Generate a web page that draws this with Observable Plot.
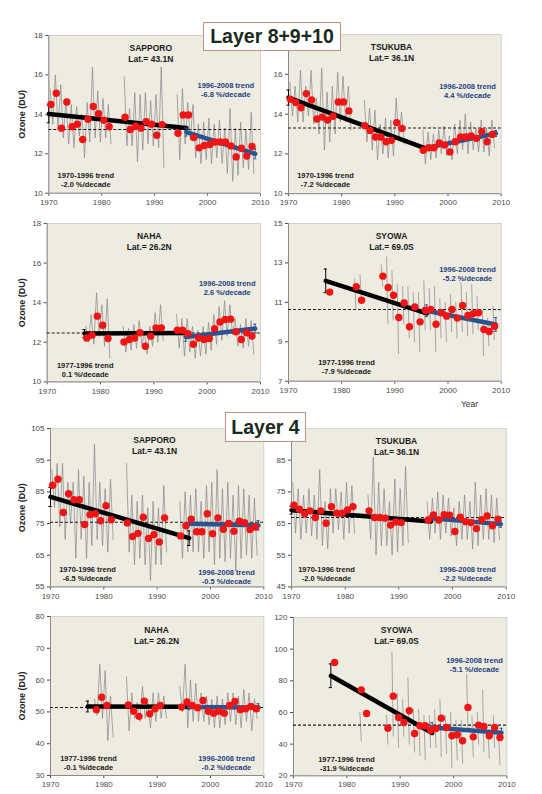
<!DOCTYPE html>
<html>
<head>
<meta charset="utf-8">
<script src="https://cdn.jsdelivr.net/npm/d3@7"></script>
<script src="https://cdn.jsdelivr.net/npm/@observablehq/plot@0.6"></script>
<style>
  html, body { margin: 0; padding: 0; background: #fff; }
  #page { position: relative; width: 542px; height: 794px; overflow: hidden; font-family: "Liberation Sans", Arial, sans-serif; }
  #page svg { position: absolute; }
  .layer { position: absolute; box-sizing: border-box; background: #fff; border: 1.5px solid #c98f86;
           color: #1b2a1b; font: bold 19.5px "Liberation Sans", Arial, sans-serif;
           display: flex; align-items: center; justify-content: center; z-index: 5; }
</style>
</head>
<body>
<div id="page">
  <div class="layer" style="left:203px;top:22px;width:138px;height:29px">Layer 8+9+10</div>
  <div class="layer" style="left:225px;top:412px;width:81px;height:30px">Layer 4</div>
</div>
<script>
// ---------- Umkehr layer ozone (DU) ----------
const decadeTicks = [1970, 1980, 1990, 2000, 2010];

// Annual means [year, DU]
const sapporoL8Annual = [[1970,14.5],[1971,15.07],[1972,13.3],[1973,14.63],[1974,13.37],[1975,13.5],[1976,12.72],[1977,13.75],[1978,14.4],[1979,14.03],[1980,13.7],[1981,13.37],[1984,13.85],[1985,13.23],[1986,13.4],[1987,13.3],[1988,13.63],[1989,13.5],[1990,12.94],[1991,13.48],[1994,13.04],[1995,13.97],[1996,13.97],[1997,12.82],[1998,12.3],[1999,12.42],[2000,12.47],[2001,12.6],[2002,12.6],[2003,12.6],[2004,12.4],[2005,11.84],[2006,12.28],[2007,11.89],[2008,12.37]];
const tsukubaL8Annual = [[1970,14.74],[1971,14.58],[1972,14.32],[1973,15.03],[1974,14.71],[1975,13.75],[1976,13.85],[1977,13.7],[1978,13.89],[1979,14.61],[1980,14.61],[1981,14.16],[1984,13.42],[1985,13.18],[1986,12.85],[1987,12.85],[1988,12.61],[1989,12.68],[1990,13.57],[1991,13.28],[1995,12.18],[1996,12.31],[1997,12.31],[1998,12.55],[1999,12.45],[2000,12.1],[2001,12.61],[2002,12.85],[2003,12.85],[2004,12.9],[2005,12.78],[2006,13.12],[2007,12.61],[2008,12.98]];
const nahaL8Annual = [[1977,12.22],[1978,12.36],[1979,13.32],[1980,12.86],[1981,12.19],[1984,12.02],[1985,12.14],[1986,12.22],[1987,12.48],[1988,11.8],[1989,12.31],[1990,12.73],[1991,12.73],[1994,12.61],[1995,12.61],[1996,12.44],[1997,11.9],[1998,12.22],[1999,12.14],[2000,12.19],[2001,12.69],[2002,13.03],[2003,13.15],[2004,13.17],[2005,12.53],[2006,12.14],[2007,12.48],[2008,12.32]];
const syowaL8Annual = [[1977,11.52],[1982,11.79],[1983,11.11],[1987,12.33],[1988,11.75],[1989,11.36],[1990,10.23],[1991,10.97],[1992,9.76],[1993,10.77],[1994,10.01],[1995,10.6],[1996,10.64],[1997,9.89],[1998,10.47],[1999,10.3],[2000,10.64],[2001,10.2],[2002,10.84],[2003,10.33],[2004,10.43],[2005,10.47],[2006,9.62],[2007,9.52],[2008,9.79]];
const sapporoL4Annual = [[1970,87.1],[1971,89.0],[1972,78.5],[1973,84.4],[1974,82.5],[1975,82.5],[1976,74.7],[1977,77.8],[1978,78.1],[1979,75.9],[1980,80.6],[1981,76.2],[1984,75.2],[1985,70.9],[1986,71.9],[1987,77.0],[1988,70.3],[1989,71.5],[1990,69.2],[1991,76.8],[1994,71.1],[1995,74.3],[1996,76.4],[1997,72.4],[1998,72.4],[1999,78.1],[2000,71.8],[2001,76.8],[2002,73.2],[2003,75.0],[2004,72.6],[2005,75.7],[2006,75.3],[2007,73.1],[2008,73.9]];
const tsukubaL4Annual = [[1970,70.8],[1971,69.5],[1972,68.1],[1973,69.0],[1974,66.9],[1975,69.0],[1976,65.1],[1977,70.3],[1978,68.3],[1979,68.3],[1980,69.3],[1981,70.3],[1984,69.0],[1985,66.9],[1986,66.9],[1987,66.7],[1988,64.5],[1989,65.5],[1990,65.3],[1995,66.1],[1996,67.7],[1997,66.1],[1998,67.8],[1999,67.6],[2000,62.5],[2001,67.0],[2002,65.6],[2003,65.3],[2004,63.4],[2005,66.2],[2006,67.4],[2007,64.3],[2008,66.4]];
const nahaL4Annual = [[1978,50.7],[1979,54.6],[1980,52.0],[1984,52.2],[1985,50.2],[1986,48.6],[1987,53.4],[1988,49.4],[1989,51.0],[1990,52.0],[1994,51.5],[1995,53.1],[1996,52.0],[1997,51.3],[1998,53.6],[1999,50.2],[2000,49.6],[2001,50.2],[2002,49.6],[2003,52.0],[2004,53.3],[2005,50.7],[2006,51.0],[2007,51.7],[2008,51.0]];
const syowaL4Annual = [[1977,91.6],[1982,74.3],[1983,59.4],[1987,50.1],[1988,70.3],[1989,56.8],[1990,53.7],[1991,61.1],[1992,46.7],[1993,51.6],[1994,51.6],[1995,48.8],[1996,49.9],[1997,56.4],[1998,50.5],[1999,45.3],[2000,45.9],[2001,42.1],[2002,63.2],[2003,44.6],[2004,52.0],[2005,51.2],[2006,45.3],[2007,50.5],[2008,44.2]];

// Monthly spread per year [year, highest month, lowest month]
const sapporoL8Monthly = [[1970,15.3,13.5],[1971,16.0,13.2],[1972,15.5,12.8],[1973,14.8,12.5],[1974,14.5,12.3],[1975,14.4,12.9],[1976,14.0,11.8],[1977,14.6,12.6],[1978,16.4,12.8],[1979,15.2,12.6],[1980,14.8,12.8],[1981,14.5,12.5],[1984,15.9,12.4],[1985,14.3,12.4],[1986,15.1,11.6],[1987,15.0,12.2],[1988,15.1,12.5],[1989,14.7,12.4],[1990,15.0,12.3],[1991,16.4,11.3],[1994,15.0,11.7],[1995,15.3,12.5],[1996,14.6,12.7],[1997,14.5,11.8],[1998,13.5,11.5],[1999,13.6,11.7],[2000,13.8,11.5],[2001,13.5,11.8],[2002,13.7,11.5],[2003,13.3,11.0],[2004,14.3,10.6],[2005,13.3,10.9],[2006,13.6,11.3],[2007,13.2,11.2],[2008,14.1,11.0]];
const tsukubaL8Monthly = [[1970,15.6,13.9],[1971,15.4,13.6],[1972,16.2,13.6],[1973,15.4,13.9],[1974,16.2,13.5],[1975,14.8,13.0],[1976,16.3,12.2],[1977,15.1,12.6],[1978,15.4,13.0],[1979,16.1,13.6],[1980,15.9,13.6],[1981,15.4,13.2],[1984,14.7,12.6],[1985,14.3,12.2],[1986,14.2,11.7],[1987,13.5,12.0],[1988,13.8,11.8],[1989,13.7,11.9],[1990,14.8,12.7],[1991,14.1,12.5],[1995,13.2,11.5],[1996,13.1,11.7],[1997,13.0,11.8],[1998,13.2,12.0],[1999,13.4,11.9],[2000,12.9,11.7],[2001,13.5,12.0],[2002,13.7,12.2],[2003,14.0,12.0],[2004,13.6,12.2],[2005,13.3,12.1],[2006,13.7,12.1],[2007,13.3,11.9],[2008,13.7,12.3]];
const nahaL8Monthly = [[1977,12.8,12.0],[1978,13.4,11.9],[1979,14.5,12.3],[1980,13.9,11.8],[1981,14.2,11.2],[1984,12.8,11.5],[1985,12.7,11.6],[1986,12.9,11.7],[1987,13.1,11.9],[1988,12.5,11.4],[1989,12.8,11.8],[1990,13.5,12.0],[1991,13.9,12.1],[1994,13.4,11.7],[1995,13.2,11.3],[1996,13.2,11.5],[1997,12.8,11.2],[1998,12.6,11.3],[1999,12.8,11.4],[2000,13.0,11.6],[2001,13.4,11.9],[2002,13.8,12.1],[2003,14.1,12.3],[2004,13.9,12.4],[2005,13.2,11.8],[2006,12.9,11.7],[2007,13.2,11.8],[2008,13.1,11.4]];
const syowaL8Monthly = [[1982,12.2,10.7],[1983,12.4,11.2],[1987,12.9,11.8],[1988,13.3,9.9],[1989,12.6,10.1],[1990,11.9,8.4],[1991,11.8,9.9],[1992,11.8,9.2],[1993,11.5,9.0],[1994,11.5,8.5],[1995,12.1,9.6],[1996,11.7,9.6],[1997,11.8,8.5],[1998,11.2,9.2],[1999,11.0,9.0],[2000,11.4,9.5],[2001,11.0,9.2],[2002,12.0,9.5],[2003,11.5,9.3],[2004,11.9,9.4],[2005,11.3,9.6],[2006,10.6,8.3],[2007,10.2,8.8],[2008,10.8,9.1]];
const sapporoL4Monthly = [[1970,92,80],[1971,94,74],[1972,94,70],[1973,88,75],[1974,88,64],[1975,92,70],[1976,90,64],[1977,88,68],[1978,100,70],[1979,88,68],[1980,86,66],[1981,89,70],[1984,94,66],[1985,84,62],[1986,82,64],[1987,84,62],[1988,80,57],[1989,82,62],[1990,80,62],[1991,87,66],[1994,82,64],[1995,85,66],[1996,84,66],[1997,86,66],[1998,82,64],[1999,87,66],[2000,88,62],[2001,92,64],[2002,86,63],[2003,88,64],[2004,84,60],[2005,87,64],[2006,86,65],[2007,84,64],[2008,83,65]];
const tsukubaL4Monthly = [[1970,78,62],[1971,76,60],[1972,74,62],[1973,76,61],[1974,74,60],[1975,82,58],[1976,72,57],[1977,76,62],[1978,76,63],[1979,75,60],[1980,78,62],[1981,77,62],[1984,74,60],[1985,86,55],[1986,78,58],[1987,76,58],[1988,72,55],[1989,79,56],[1990,76,58],[1991,83,59],[1995,72,60],[1996,73,62],[1997,75,60],[1998,74,62],[1999,73,61],[2000,70,58],[2001,72,60],[2002,74,60],[2003,72,57],[2004,78,58],[2005,74,60],[2006,76,60],[2007,74,59],[2008,73,60]];
const nahaL4Monthly = [[1978,54,49],[1979,65,48],[1980,63,41],[1981,55,42],[1984,61,44],[1985,56,48],[1986,53,47],[1987,58,48],[1988,53,45],[1989,56,47],[1990,56,48],[1991,55,48],[1994,58,50],[1995,65,45],[1996,60,47],[1997,59,47],[1998,56,47],[1999,55,46],[2000,54,45],[2001,55,45],[2002,54,46],[2003,56,47],[2004,56,46],[2005,55,45],[2006,57,47],[2007,56,44],[2008,54,48]];
const syowaL4Monthly = [[1982,60,42],[1987,58,40],[1988,98,45],[1989,72,38],[1990,68,45],[1991,82,40],[1992,62,35],[1993,62,33],[1994,58,30],[1995,58,38],[1996,62,38],[1997,68,32],[1998,58,34],[1999,60,25],[2000,55,30],[2001,55,28],[2002,84,50],[2003,58,32],[2004,60,40],[2005,74,35],[2006,48,31],[2007,58,38],[2008,45,27]];

// Long-term mean (dashed reference)
const sapporoL8Ref = 13.23, tsukubaL8Ref = 13.3, nahaL8Ref = 12.47, syowaL8Ref = 10.64;
const sapporoL4Ref = 75.4, tsukubaL4Ref = 66.9, nahaL4Ref = 51.4, syowaL4Ref = 52.0;

// Piecewise trends: period, value at period start, %/decade
const sapporoL8Trends = [{span:"1970-1996",from:1970,to:1996,start:14.02,pct:-2.0},{span:"1996-2008",from:1996,to:2009,start:13.1,pct:-6.8}];
const tsukubaL8Trends = [{span:"1970-1996",from:1970,to:1996,start:14.83,pct:-7.2},{span:"1996-2008",from:1996,to:2009,start:12.3,pct:4.4}];
const nahaL8Trends = [{span:"1977-1996",from:1977,to:1996,start:12.44,pct:0.1},{span:"1996-2008",from:1996,to:2009,start:12.27,pct:2.6}];
const syowaL8Trends = [{span:"1977-1996",from:1977,to:1996,start:12.09,pct:-7.9},{span:"1996-2008",from:1996,to:2009,start:10.57,pct:-5.2}];
const sapporoL4Trends = [{span:"1970-1996",from:1970,to:1996,start:83.4,pct:-6.5},{span:"1996-2008",from:1996,to:2009,start:74.9,pct:-0.5}];
const tsukubaL4Trends = [{span:"1970-1996",from:1970,to:1996,start:69.2,pct:-2.0},{span:"1996-2008",from:1996,to:2009,start:66.7,pct:-2.2}];
const nahaL4Trends = [{span:"1977-1996",from:1977,to:1996,start:51.7,pct:-0.1},{span:"1996-2008",from:1996,to:2009,start:51.5,pct:-0.2}];
const syowaL4Trends = [{span:"1977-1996",from:1977,to:1996,start:83.2,pct:-31.9},{span:"1996-2008",from:1996,to:2009,start:50.5,pct:-5.1}];

// Uncertainty at trend ends [year, half width, trend index]
const sapporoL8Errors = [[1970,0.45,0],[1996,0.2,1],[2009,0.25,1]];
const tsukubaL8Errors = [[1970,0.38,0],[2009,0.15,1]];
const nahaL8Errors = [[1977,0.2,0],[1996,0.22,1],[2009,0.22,1]];
const syowaL8Errors = [[1977,0.6,0],[1996,0.3,1],[2009,0.35,1]];
const sapporoL4Errors = [[1970,3.0,0],[1996,2.3,0],[2009,1.5,1]];
const tsukubaL4Errors = [[1970,1.2,0],[1996,0.8,1],[2009,1.0,1]];
const nahaL4Errors = [[1977,1.7,0],[1996,0.8,1],[2009,1.2,1]];
const syowaL4Errors = [[1977,7.5,0],[1996,3.0,1],[2009,2.8,1]];

// Tick values (the top tick of the right-hand panels sits under the layer heading)
const ticksL8 = [10, 12, 14, 16, 18];
const ticksTsukubaL8 = [10, 12, 14, 16];
const ticksSyowaL8 = [7, 9, 11, 13, 15];
const ticksSapporoL4 = [55, 65, 75, 85, 95, 105];
const ticksTsukubaL4 = [45, 55, 65, 75, 85];
const ticksNahaL4 = [30, 40, 50, 60, 70, 80];
const ticksSyowaL4 = [20, 40, 60, 80, 100, 120];

const TREND_COLORS = ["#000000", "#2a5490"];
const TEXT_COLORS = ["#1a1a1a", "#1f3f7f"];

// Panel layout (page pixels: frame left, top, right, bottom) and label placement
const panels = [
  {station:"SAPPORO", lat:"Lat.= 43.1N", annual:sapporoL8Annual, monthly:sapporoL8Monthly, ref:sapporoL8Ref, trends:sapporoL8Trends, errors:sapporoL8Errors,
   yDomain:[10,18], yTicks:ticksL8, frame:[48.3,35,260,192.7], yLabel:true, offset:0.4,
   pos:{name:[102,13], trend:[[37,140],[177,50]]}},
  {station:"TSUKUBA", lat:"Lat.= 36.1N", annual:tsukubaL8Annual, monthly:tsukubaL8Monthly, ref:tsukubaL8Ref, trends:tsukubaL8Trends, errors:tsukubaL8Errors,
   yDomain:[10,18], yTicks:ticksTsukubaL8, frame:[288.3,33.5,501,192.7], offset:0.35,
   pos:{name:[103,13], trend:[[37,141],[179,52]]}},
  {station:"NAHA", lat:"Lat.= 26.2N", annual:nahaL8Annual, monthly:nahaL8Monthly, ref:nahaL8Ref, trends:nahaL8Trends, errors:nahaL8Errors,
   yDomain:[10,18], yTicks:ticksL8, frame:[46.7,223.3,260,381.7], yLabel:true, offset:0.4,
   pos:{name:[102,13], trend:[[38,142],[180,60]]}},
  {station:"SYOWA", lat:"Lat.= 69.0S", annual:syowaL8Annual, monthly:syowaL8Monthly, ref:syowaL8Ref, trends:syowaL8Trends, errors:syowaL8Errors,
   yDomain:[7,15], yTicks:ticksSyowaL8, frame:[288.3,223.3,501,381], offset:0.75, sparse:true, year:[181,23],
   pos:{name:[103,13], trend:[[58,139],[179,46]]}},
  {station:"SAPPORO", lat:"Lat.= 43.1N", annual:sapporoL4Annual, monthly:sapporoL4Monthly, ref:sapporoL4Ref, trends:sapporoL4Trends, errors:sapporoL4Errors,
   yDomain:[55,105], yTicks:ticksSapporoL4, frame:[50,428.3,263.3,586.7], yLabel:true, offset:0.4,
   pos:{name:[104,12], trend:[[37,141],[176,144]]}},
  {station:"TSUKUBA", lat:"Lat.= 36.1N", annual:tsukubaL4Annual, monthly:tsukubaL4Monthly, ref:tsukubaL4Ref, trends:tsukubaL4Trends, errors:tsukubaL4Errors,
   yDomain:[45,95], yTicks:ticksTsukubaL4, frame:[291,427.6,505.7,586], offset:0.45,
   pos:{name:[105,13], trend:[[35,141],[176,141]]}},
  {station:"NAHA", lat:"Lat.= 26.2N", annual:nahaL4Annual, monthly:nahaL4Monthly, ref:nahaL4Ref, trends:nahaL4Trends, errors:nahaL4Errors,
   yDomain:[30,80], yTicks:ticksNahaL4, frame:[50,616,263.3,775], yLabel:true, offset:0.6,
   pos:{name:[106,14], trend:[[38,142],[176,142]]}},
  {station:"SYOWA", lat:"Lat.= 69.0S", annual:syowaL4Annual, monthly:syowaL4Monthly, ref:syowaL4Ref, trends:syowaL4Trends, errors:syowaL4Errors,
   yDomain:[20,120], yTicks:ticksSyowaL4, frame:[293.3,616.7,506.7,775], offset:0.7, sparse:true,
   pos:{name:[103,13], trend:[[53,142],[181,43]]}}
];

function drawPanel(p) {
  const [fl, ft, fr, fb] = p.frame;
  const mL = p.yLabel ? fl : 30, mR = 8, mT = 6, mB = p.year ? 30 : 22;
  const W = fr - fl, H = fb - ft;
  const [y0, y1] = p.yDomain;
  // convert frame-relative pixel offsets into data coordinates for label placement
  const px = dx => 1970 + (dx / W) * 40;
  const py = dy => y1 - (dy / H) * (y1 - y0);

  const dots = p.annual.map(([year, v]) => ({x: year + p.offset, v}));

  // monthly variation drawn as a zigzag between each year's extremes, broken at data gaps
  const gray = [];
  let last = null;
  for (const [year, hi, lo] of p.monthly) {
    if (last !== null && (p.sparse || year - last > 1)) gray.push({x: year, v: NaN});
    if (p.sparse) gray.push({x: year + 0.45, v: hi}, {x: year + 0.7, v: lo});
    else gray.push({x: year + 0.25, v: hi}, {x: year + 0.75, v: lo});
    last = year;
  }

  // trend line: slope = (%/decade) of the period's mean level
  const fits = p.trends.map(t => {
    const mean = d3.mean(p.annual.filter(([yr]) => yr >= t.from && yr < t.to), d => d[1]);
    const slope = (t.pct / 100) * mean / 10;
    return {...t, at: x => t.start + slope * (x - t.from)};
  });

  const marks = [
    Plot.frame({fill: "#EEECE1", stroke: "#d3d1c8"}),
    Plot.ruleX([1970], {stroke: "#8a8a8a"}),
    Plot.ruleY([y0], {stroke: "#8a8a8a"}),
    Plot.line(gray, {x: "x", y: "v", stroke: "#858585", strokeWidth: 0.7}),
    Plot.ruleY([p.ref], {stroke: "#1a1a1a", strokeWidth: 1.1, strokeDasharray: "3,2"})
  ];

  fits.forEach((f, i) => {
    marks.push(Plot.line([f.from, f.to], {x: d => d, y: d => f.at(d), stroke: TREND_COLORS[i], strokeWidth: 4.5}));
  });

  fits.forEach((f, i) => {
    const bars = p.errors.filter(e => e[2] === i).map(([x, h]) => ({x, lo: f.at(x) - h, hi: f.at(x) + h}));
    const caps = bars.flatMap(b => [{x: b.x, y: b.lo}, {x: b.x, y: b.hi}]);
    marks.push(
      Plot.ruleX(bars, {x: "x", y1: "lo", y2: "hi", stroke: TREND_COLORS[i], strokeWidth: 1}),
      Plot.ruleY(caps, {y: "y", x1: d => d.x - 0.3, x2: d => d.x + 0.3, stroke: TREND_COLORS[i], strokeWidth: 1})
    );
  });

  marks.push(Plot.dot(dots, {x: "x", y: "v", r: 3.7, fill: "#f01414"}));

  // station name and latitude
  const [nx, ny] = p.pos.name;
  marks.push(Plot.text([p.station, p.lat], {
    x: () => px(nx), y: (d, i) => py(ny + i * 11), text: d => d,
    fontSize: 8.5, fontWeight: 600, fill: "#1a1a1a", textAnchor: "middle", lineAnchor: "middle"
  }));

  // trend annotations
  fits.forEach((f, i) => {
    const [tx, ty] = p.pos.trend[i];
    const lines = [`${f.span} trend`, `${f.pct.toFixed(1)} %/decade`];
    marks.push(Plot.text(lines, {
      x: () => px(tx), y: (d, k) => py(ty + k * 9.5), text: d => d,
      fontSize: 7.5, fontWeight: "bold", fill: TEXT_COLORS[i], textAnchor: "middle", lineAnchor: "middle"
    }));
  });

  if (p.yLabel) {
    marks.push(Plot.text(["Ozone (DU)"], {
      frameAnchor: "left", dx: -fl + 22, rotate: -90, text: d => d,
      fontSize: 9, fontWeight: "bold", fill: "#262626", textAnchor: "middle", lineAnchor: "middle"
    }));
  }
  if (p.year) {
    marks.push(Plot.text(["Year"], {
      frameAnchor: "bottom-left", dx: p.year[0], dy: p.year[1], text: d => d,
      fontSize: 8.5, fill: "#333", textAnchor: "middle", lineAnchor: "middle"
    }));
  }

  const svg = Plot.plot({
    width: mL + W + mR, height: mT + H + mB,
    marginLeft: mL, marginRight: mR, marginTop: mT, marginBottom: mB,
    style: {background: "transparent", fontFamily: "'Liberation Sans', Arial, sans-serif", fontSize: "8px", color: "#4a4a4a", overflow: "visible"},
    x: {domain: [1970, 2010], ticks: decadeTicks, tickFormat: d => String(d), tickSize: 3, tickPadding: 3, label: null},
    y: {domain: p.yDomain, ticks: p.yTicks, tickFormat: d => String(d), tickSize: 3, tickPadding: 3, label: null},
    marks
  });
  svg.style.left = `${fl - mL}px`;
  svg.style.top = `${ft - mT}px`;
  return svg;
}

const page = document.getElementById("page");
for (const p of panels) page.appendChild(drawPanel(p));
</script>
</body>
</html>
